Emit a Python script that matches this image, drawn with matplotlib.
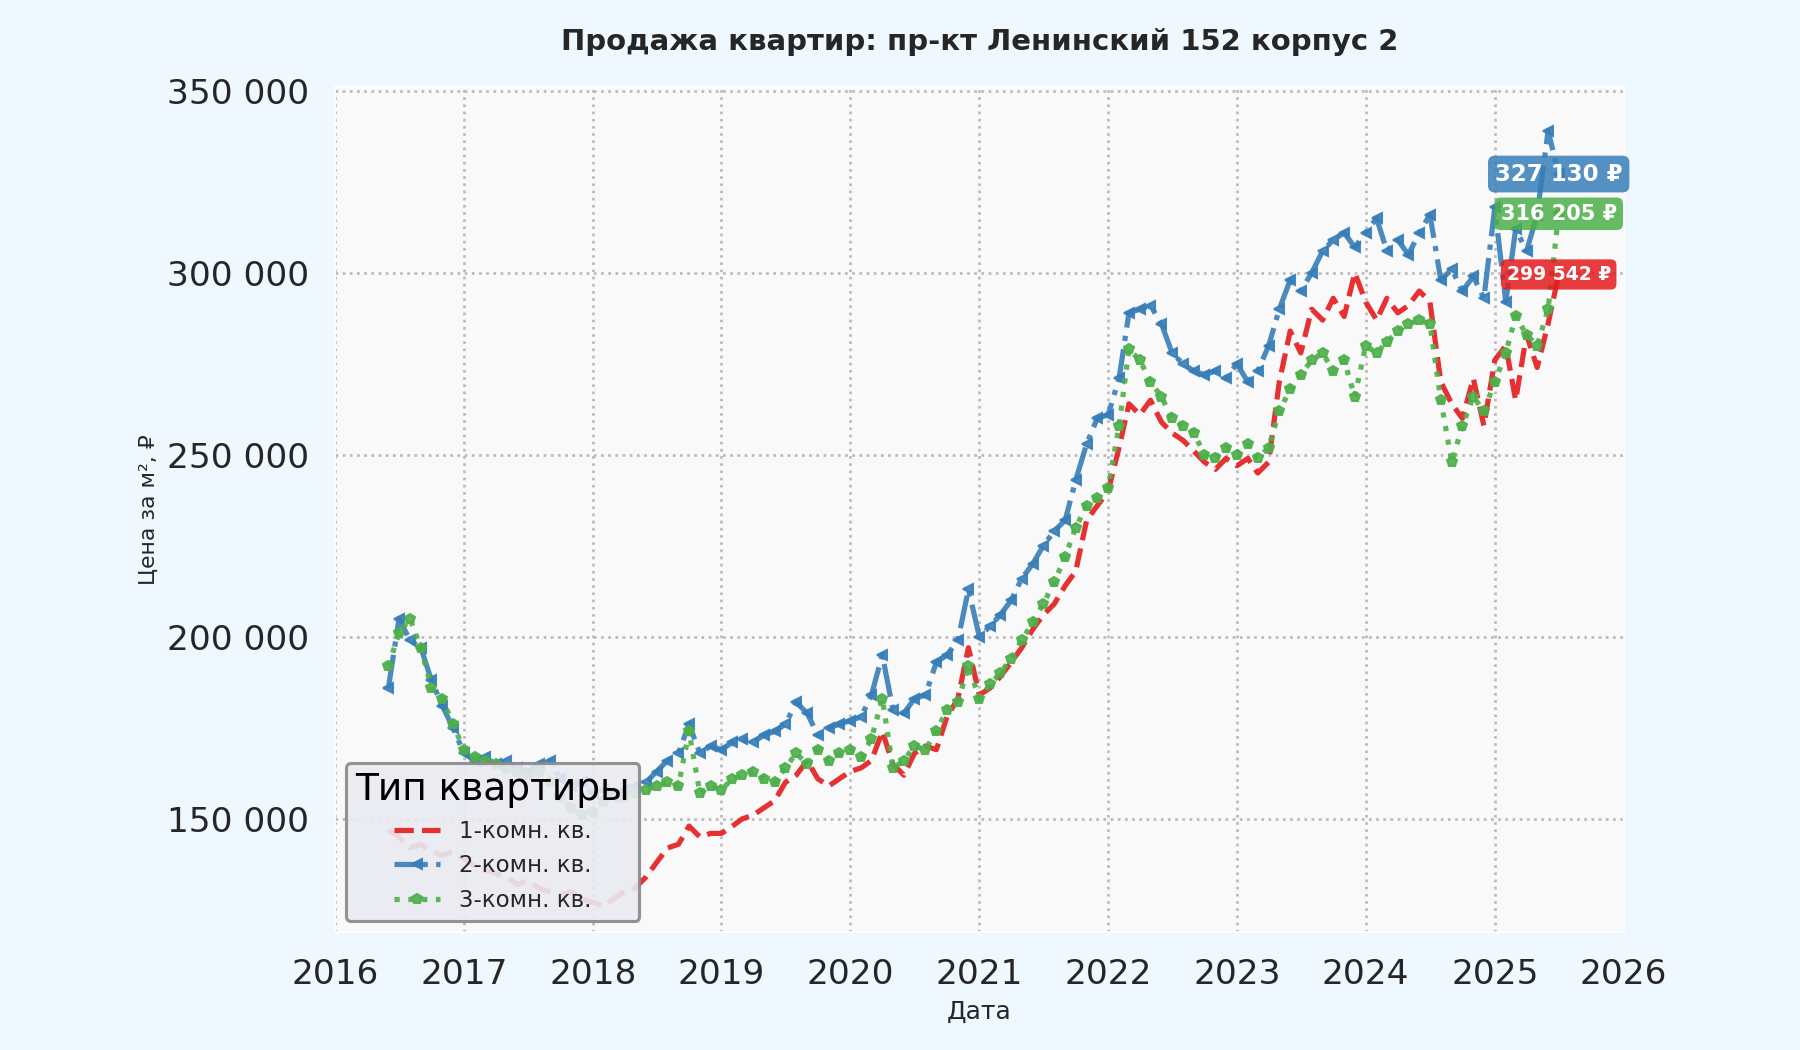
import matplotlib
matplotlib.use("Agg")
import matplotlib.pyplot as plt
import matplotlib.dates as mdates
from matplotlib.ticker import FuncFormatter
import pandas as pd

# monthly observations, June 2016 .. July 2025
dates = pd.date_range("2016-06-01", periods=110, freq="MS")

# price per m2, thousands of roubles
one_room = [
    147, 145, 142, 143, 141, 140, 141,
    139, 137, 136, 135, 134, 132, 133, 131, 130, 129, 130, 128,
    127, 126, 128, 130, 131, 134, 138, 142, 143, 148, 145, 146,
    146, 148, 150, 151, 153, 155, 160, 162, 166, 161, 159, 161,
    163, 164, 166, 174, 165, 162, 168, 170, 169, 178, 183, 197,
    184, 186, 189, 193, 197, 202, 206, 209, 214, 218, 232, 236,
    240, 252, 264, 261, 265, 259, 256, 254, 251, 248, 246, 249,
    247, 249, 245, 248, 270, 284, 278, 290, 287, 293, 288, 300,
    292, 287, 293, 289, 291, 295, 292, 270, 264, 260, 271, 258,
    276, 280, 265, 283, 274, 286, 299.542,
]
two_room = [
    186, 205, 199, 197, 188, 181, 175,
    168, 166, 167, 165, 166, 164, 163, 165, 166, 161, 159, 160,
    157, 158, 156, 158, 159, 160, 163, 166, 168, 176, 168, 170,
    169, 171, 172, 171, 173, 174, 176, 182, 179, 173, 175, 176,
    177, 178, 184, 195, 180, 179, 183, 184, 193, 195, 199, 213,
    200, 203, 206, 210, 216, 220, 225, 229, 232, 243, 253, 260,
    261, 271, 289, 290, 291, 286, 278, 275, 273, 272, 273, 271,
    275, 270, 273, 280, 290, 298, 295, 300, 306, 309, 311, 307,
    311, 315, 306, 309, 305, 311, 316, 298, 301, 295, 299, 293,
    318, 292, 312, 306, 316, 339, 327.130,
]
three_room = [
    192, 201, 205, 197, 186, 183, 176,
    169, 167, 166, 165, 164, 163, 162, 163, 160, 156, 153, 151,
    152, 155, 157, 156, 157, 158, 159, 160, 159, 174, 157, 159,
    158, 161, 162, 163, 161, 160, 164, 168, 165, 169, 166, 168,
    169, 167, 172, 183, 164, 166, 170, 169, 174, 180, 182, 192,
    183, 187, 190, 194, 199, 204, 209, 215, 222, 230, 236, 238,
    241, 258, 279, 276, 270, 266, 260, 258, 256, 250, 249, 252,
    250, 253, 249, 252, 262, 268, 272, 276, 278, 273, 276, 266,
    280, 278, 281, 284, 286, 287, 286, 265, 248, 258, 266, 262,
    270, 278, 288, 283, 280, 290, 316.205,
]

labels = ["1-комн. кв.", "2-комн. кв.", "3-комн. кв."]
colors = ["#E41A1C", "#377EB8", "#4DAF4A"]
styles = [("--", None), ("-.", "<"), (":", "p")]
badge_sizes = [9, 11, 10]

fig, ax = plt.subplots(figsize=(12, 7), dpi=150)
fig.patch.set_facecolor("#F0F8FF")
ax.set_facecolor("#F9F9F9")
fig.subplots_adjust(left=0.186, right=0.902, top=0.917, bottom=0.112)

for vals, lab, col, (ls, mk), fs in zip([one_room, two_room, three_room],
                                        labels, colors, styles, badge_sizes):
    y = [v * 1000 for v in vals]
    ax.plot(dates, y, ls=ls, marker=mk, markersize=5, lw=2.5,
            color=col, alpha=0.9, label=lab)
    ax.text(dates[-1], y[-1], f"{y[-1]:,.0f} ₽".replace(",", " "),
            ha="center", va="center", color="white", fontsize=fs,
            fontweight="bold", zorder=5,
            bbox=dict(boxstyle="round,pad=0.3", fc=col, ec="none", alpha=0.85))

ax.set_xlim(pd.Timestamp("2016-01-01"), pd.Timestamp("2026-01-01"))
ax.set_ylim(118800, 351000)
ax.set_yticks([150000, 200000, 250000, 300000, 350000])
ax.yaxis.set_major_formatter(FuncFormatter(lambda v, p: f"{v:,.0f}".replace(",", " ")))
ax.xaxis.set_major_locator(mdates.YearLocator())
ax.xaxis.set_major_formatter(mdates.DateFormatter("%Y"))
ax.tick_params(labelsize=16.5, colors="#262626", length=0, pad=12.5)

ax.grid(True, ls=":", lw=1.3, color="#BBBBBB")
for s in ax.spines.values():
    s.set_color("white")

ax.set_title("Продажа квартир: пр-кт Ленинский 152 корпус 2",
             fontsize=14, fontweight="bold", color="#262626", pad=18)
ax.set_xlabel("Дата", fontsize=12, color="#262626")
ax.set_ylabel("Цена за м², ₽", fontsize=10.5, color="#262626")

leg = ax.legend(title="Тип квартиры", loc="lower left", fontsize=11,
                title_fontsize=18, facecolor="#EAEAF2", edgecolor="#888888",
                framealpha=0.9, fancybox=True)
leg.get_frame().set_linewidth(1.5)
for t in leg.get_texts():
    t.set_color("#262626")

fig.savefig("out.png", dpi=150, facecolor=fig.get_facecolor())
